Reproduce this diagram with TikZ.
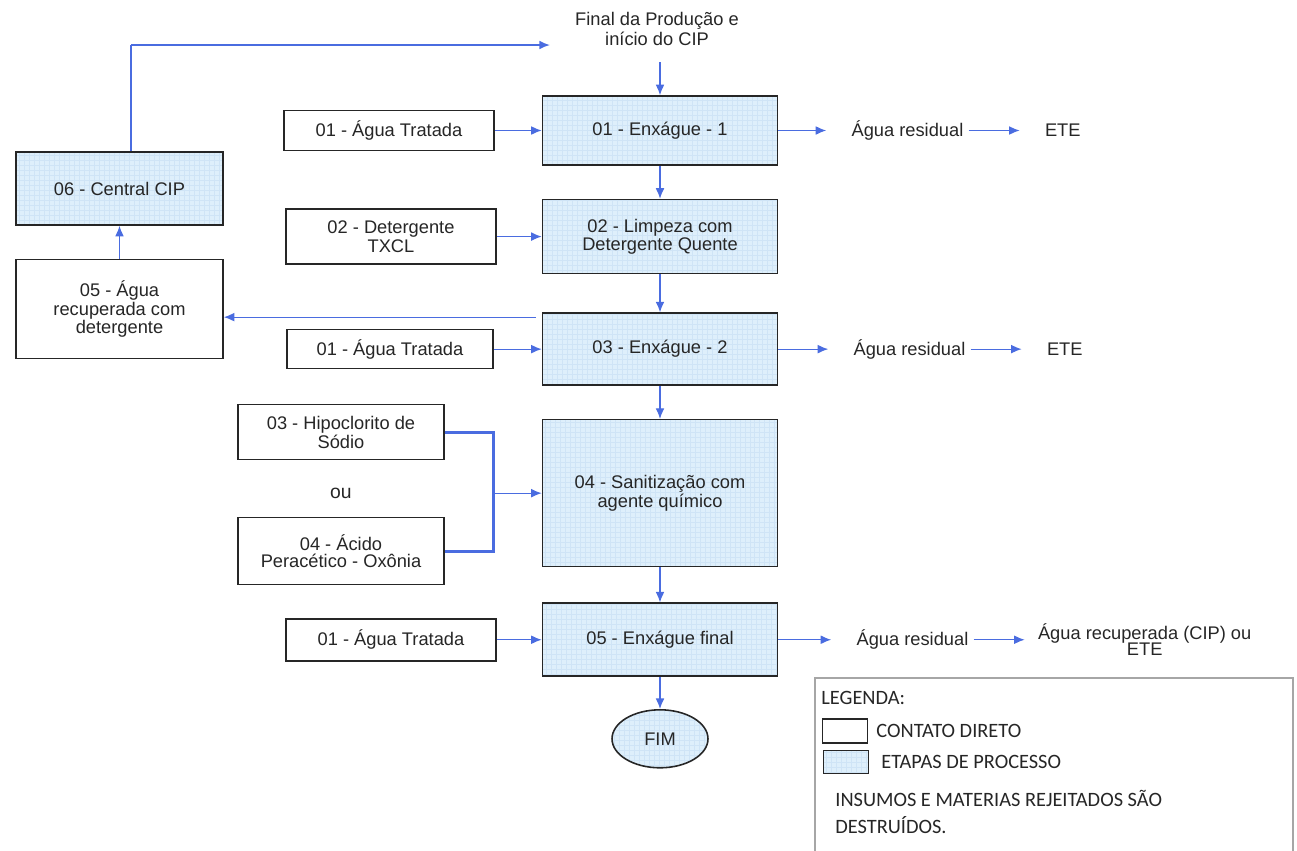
\documentclass[tikz,border=0pt]{standalone}
\usepackage{fontspec}
\setmainfont{Liberation Sans}
\newfontfamily\legendafont{Carlito}
\usetikzlibrary{positioning,arrows.meta,shapes.geometric}

\definecolor{DEFINE_SETA_COLOR}{HTML}{4A6CE0}
\definecolor{DEFINE_ETAPA_COLOR}{HTML}{DEEFFB}
\definecolor{DEFINE_GRADE_COLOR}{HTML}{CFE4F6}
\definecolor{DEFINE_TEXTO_COLOR}{HTML}{262626}
\tikzstyle{box} = [rectangle, line width=0.9pt, draw=black!85, align=center, inner sep=1pt, text=DEFINE_TEXTO_COLOR, font=\fontsize{10.4}{9.4}\selectfont]
\tikzstyle{grade} = [path picture={\draw[DEFINE_GRADE_COLOR, line width=0.2pt, step=0.1cm] (path picture bounding box.south west) grid (path picture bounding box.north east);}]
\tikzstyle{contato} = [box, fill=white]
\tikzstyle{etapa} = [box, fill=DEFINE_ETAPA_COLOR, grade]
\tikzstyle{E_STEP} = [etapa, minimum width=4.7cm]
\tikzstyle{INSUMO} = [contato, minimum width=4.2cm]
\tikzstyle{FIM_SHAPE} = [etapa, ellipse, minimum width=1.92cm, minimum height=1.16cm, inner sep=0pt]
\tikzstyle{rotulo} = [align=center, inner sep=0pt, text=DEFINE_TEXTO_COLOR, font=\fontsize{10.4}{9.4}\selectfont]
\tikzstyle{seta} = [-{Latex[length=6pt,width=5pt]}, draw=DEFINE_SETA_COLOR, line width=0.7pt]
\tikzstyle{linha_grossa} = [draw=DEFINE_SETA_COLOR, line width=1.6pt]
\tikzstyle{legenda} = [inner sep=0pt, anchor=west, align=left, text=black!85, font=\legendafont\fontsize{11.6}{15.3}\selectfont]

\begin{document}
\begin{tikzpicture}[x=0.02cm, y=-0.02cm, node distance=0.66cm and 0.94cm]
      \useasboundingbox (0,0) rectangle (1297,850);

      %%%%%%%%%%%%%%%%%%%%%%%%%%%%%%%%%%%%%%%%%%%%%%%%%
      % ETAPAS DE PROCESSO
      %%%%%%%%%%%%%%%%%%%%%%%%%%%%%%%%%%%%%%%%%%%%%%%%%
      \node[rotulo] (INI) at (657,29) {Final da Produção e\\início do CIP};
      \node[E_STEP, minimum height=1.38cm] (E1) at (660,130.5) {01 - Enxágue - 1};
      \node[E_STEP, minimum height=1.48cm, below=of E1] (L2) {02 - Limpeza com\\Detergente Quente};
      \node[E_STEP, minimum height=1.44cm, below=0.76cm of L2] (E2) {03 - Enxágue - 2};
      \node[E_STEP, minimum height=2.94cm, below=of E2] (S4) {04 - Sanitização com\\agente químico};
      \node[E_STEP, minimum height=1.46cm, below=0.7cm of S4] (F5) {05 - Enxágue final};
      \node[FIM_SHAPE, below=0.64cm of F5] (FIM) {FIM};

      \node[etapa, minimum width=4.14cm, minimum height=1.46cm] (C6) at (119.5,188.5) {06 - Central CIP};
      \node[contato, minimum width=4.14cm, minimum height=1.98cm, below=of C6] (R5) {05 - Água\\recuperada com\\detergente};

      %%%%%%%%%%%%%%%%%%%%%%%%%%%%%%%%%%%%%%%%%%%%%%%%%
      % INSUMOS
      %%%%%%%%%%%%%%%%%%%%%%%%%%%%%%%%%%%%%%%%%%%%%%%%%
      \node[INSUMO, minimum height=0.8cm, left=0.94cm of E1] (A1) {01 - Água Tratada};
      \node[INSUMO, minimum height=1.1cm, left=0.9cm of L2] (D2) {02 - Detergente\\TXCL};
      \node[INSUMO, minimum width=4.12cm, minimum height=0.78cm, left=0.96cm of E2] (A2) {01 - Água Tratada};
      \node[INSUMO, minimum width=4.12cm, minimum height=1.1cm, above left=1.22cm and 1.94cm of S4.west, anchor=east] (H3) {03 - Hipoclorito de\\Sódio};
      \node[INSUMO, minimum width=4.12cm, minimum height=1.34cm, below left=1.16cm and 1.94cm of S4.west, anchor=east] (P4) {04 - Ácido\\Peracético - Oxônia};
      \node[rotulo, font=\fontsize{11}{11}\selectfont] (OU) at (H3 |- S4) {ou};
      \node[INSUMO, minimum height=0.84cm, left=0.9cm of F5] (A3) {01 - Água Tratada};

      %%%%%%%%%%%%%%%%%%%%%%%%%%%%%%%%%%%%%%%%%%%%%%%%%
      % SAIDAS
      %%%%%%%%%%%%%%%%%%%%%%%%%%%%%%%%%%%%%%%%%%%%%%%%%
      \node[rotulo, right=1.46cm of E1] (R1) {Água residual};
      \node[rotulo, right=1.62cm of R1] (T1) {ETE};
      \node[rotulo, right=1.5cm of E2] (R2) {Água residual};
      \node[rotulo, right=1.62cm of R2] (T2) {ETE};
      \node[rotulo, right=1.56cm of F5] (R3) {Água residual};
      \node[rotulo, right=1.38cm of R3] (T3) {Água recuperada (CIP) ou\\ETE};

      %%%%%%%%%%%%%%%%%%%%%%%%%%%%%%%%%%%%%%%%%%%%%%%%%
      % SETAS
      %%%%%%%%%%%%%%%%%%%%%%%%%%%%%%%%%%%%%%%%%%%%%%%%%
      \coordinate (INI_S) at (660,62);
      \coordinate (INI_W) at (550,45);
      \coordinate (LOOP) at (131,45);
      \coordinate (JUN) at ([xshift=-0.96cm]S4.west);
      \coordinate (RET) at ([xshift=-0.12cm, yshift=0.64cm]E2.west);

      \draw[seta] (INI_S) -- (E1.north);
      \draw[linha_grossa] (LOOP |- C6.north) -- (LOOP);
      \draw[seta, line width=1pt] (LOOP) -- (INI_W);

      \draw[seta] (E1.south) -- (L2.north);
      \draw[seta] (L2.south) -- (E2.north);
      \draw[seta] (E2.south) -- (S4.north);
      \draw[seta] (S4.south) -- (F5.north);
      \draw[seta] (F5.south) -- (FIM.north);

      \draw[seta] (A1.east) -- (E1.west);
      \draw[seta] (D2.east) -- (L2.west);
      \draw[seta] (A2.east) -- (E2.west);
      \draw[seta] (A3.east) -- (F5.west);
      \draw[linha_grossa] (H3.east) -| (JUN) |- (P4.east);
      \draw[seta] (JUN) -- (S4.west);

      \draw[seta] (RET) -- (RET -| R5.east);
      \draw[seta] (R5.north) -- (C6.south);

      \draw[seta] (E1.east) -- ([xshift=-0.5cm]R1.west);
      \draw[seta] ([xshift=0.1cm]R1.east) -- ([xshift=-0.5cm]T1.west);
      \draw[seta] (E2.east) -- ([xshift=-0.5cm]R2.west);
      \draw[seta] ([xshift=0.1cm]R2.east) -- ([xshift=-0.5cm]T2.west);
      \draw[seta] (F5.east) -- ([xshift=-0.5cm]R3.west);
      \draw[seta] ([xshift=0.1cm]R3.east) -- ([xshift=-0.26cm]T3.west);

      %%%%%%%%%%%%%%%%%%%%%%%%%%%%%%%%%%%%%%%%%%%%%%%%%
      % LEGENDA
      %%%%%%%%%%%%%%%%%%%%%%%%%%%%%%%%%%%%%%%%%%%%%%%%%
      \draw[black!35, line width=0.7pt] (815,678) rectangle (1293,880);
      \node[legenda] (LEG) at (821,698) {LEGENDA:};
      \node[contato, line width=0.6pt, minimum width=0.9cm, minimum height=0.48cm, anchor=west] (LB1) at (822,731) {};
      \node[legenda, right=0.16cm of LB1] (LT1) {CONTATO DIRETO};
      \node[etapa, line width=0.6pt, minimum width=0.9cm, minimum height=0.46cm, anchor=west] (LB2) at (823,762) {};
      \node[legenda, right=0.24cm of LB2] (LT2) {ETAPAS DE PROCESSO};
      \node[legenda] (LT3) at (835,812) {INSUMOS E MATERIAS REJEITADOS SÃO\\DESTRUÍDOS.};

\end{tikzpicture}
\end{document}
